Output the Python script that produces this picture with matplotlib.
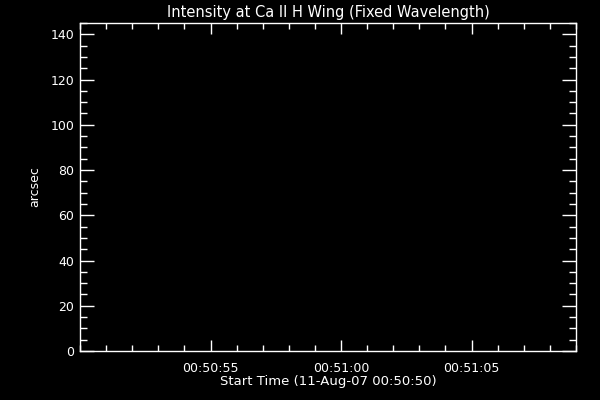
import matplotlib
matplotlib.use('Agg')
from matplotlib import pyplot as plt
from matplotlib.ticker import MultipleLocator

# chart values (empty IDL-style plot)
title = "Intensity at Ca II H Wing (Fixed Wavelength)"
x_label = "Start Time (11-Aug-07 00:50:50)"
y_label = "arcsec"
x_range = [0, 19]                     # seconds after 00:50:50
y_range = [0, 145]
x_ticks = [5, 10, 15]
x_tick_labels = ["00:50:55", "00:51:00", "00:51:05"]
y_ticks = [0, 20, 40, 60, 80, 100, 120, 140]

fig = plt.figure(figsize=(6, 4), dpi=100, facecolor='black')
ax = fig.add_axes([80/600, 1 - 351/400, 496/600, 328/400], facecolor='black')

ax.set_xlim(x_range)
ax.set_ylim(y_range)
ax.set_xticks(x_ticks)
ax.set_xticklabels(x_tick_labels)
ax.set_yticks(y_ticks)
ax.xaxis.set_minor_locator(MultipleLocator(1))
ax.yaxis.set_minor_locator(MultipleLocator(5))

for s in ax.spines.values():
    s.set_color('white')
    s.set_linewidth(1.0)

ax.tick_params(which='both', direction='in', colors='white', top=True, right=True,
               labelsize=9, width=1.0)
ax.tick_params(axis='y', which='major', length=10, pad=4)
ax.tick_params(axis='y', which='minor', length=5)
ax.tick_params(axis='x', which='major', length=8, pad=8)
ax.tick_params(axis='x', which='minor', length=4)

ax.set_title(title, color='white', fontsize=10.5, pad=4)
ax.set_xlabel(x_label, color='white', fontsize=9.5, labelpad=0)
ax.set_ylabel(y_label, color='white', fontsize=9, labelpad=7)

fig.savefig('out.png', dpi=100, facecolor='black')
